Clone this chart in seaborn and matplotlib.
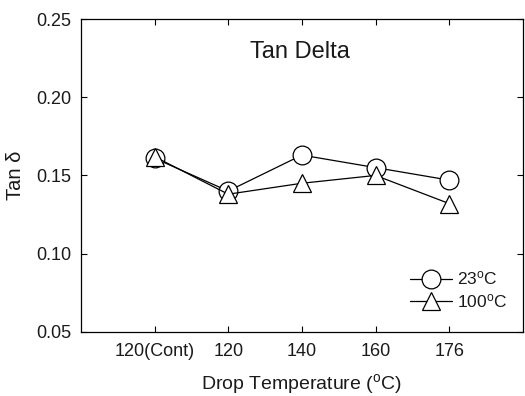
import matplotlib
matplotlib.use("Agg")
import matplotlib.pyplot as plt
import seaborn as sns
import pandas as pd

categories = ["120(Cont)", "120", "140", "160", "176"]
tan_23 = [0.161, 0.140, 0.163, 0.155, 0.147]
tan_100 = [0.162, 0.138, 0.145, 0.150, 0.132]
yticks = [0.05, 0.10, 0.15, 0.20, 0.25]

sns.set_theme(style="ticks")
plt.rcParams['font.family'] = ['Liberation Sans', 'DejaVu Sans']
plt.rcParams['mathtext.fontset'] = 'custom'
plt.rcParams['mathtext.rm'] = 'Liberation Sans'
plt.rcParams['mathtext.it'] = 'Liberation Sans:italic'

lab23 = r"23$^\mathrm{o}$C"
lab100 = r"100$^\mathrm{o}$C"
pos = list(range(len(categories)))
df = pd.DataFrame({
    "x": pos + pos,
    "y": tan_23 + tan_100,
    "series": [lab23] * len(pos) + [lab100] * len(pos),
})

fig = plt.figure(figsize=(5.25, 3.96), dpi=100)
ax = fig.add_axes([0.154, 0.162, 0.842, 0.790])
sns.lineplot(data=df, x="x", y="y", hue="series", style="series",
             palette={lab23: "black", lab100: "black"},
             markers={lab23: "o", lab100: "^"}, dashes=False,
             markersize=13.5, markerfacecolor="white", markeredgecolor="black",
             markeredgewidth=0.9, linewidth=0.9, ax=ax)

ax.set_xlim(-1, 5)
ax.set_ylim(0.05, 0.25)
ax.set_xticks(pos)
ax.set_xticklabels(categories)
ax.set_yticks(yticks)
ax.set_yticklabels([f"{v:.2f}" for v in yticks])
ax.tick_params(direction="in", top=True, right=True, labelsize=13, length=4,
               width=0.8, colors="black", labelcolor="#1a1a1a", pad=7)
ax.tick_params(axis="x", pad=8)
for s in ax.spines.values():
    s.set_linewidth(0.9)
    s.set_color("black")

ax.set_xlabel(r"Drop Temperature ($^\mathrm{o}$C)", fontsize=14, labelpad=9,
              color="#1a1a1a")
ax.set_ylabel("Tan δ", fontsize=14.5, labelpad=8, color="#1a1a1a")
ax.text(0.495, 0.895, "Tan Delta", transform=ax.transAxes, ha="center",
        va="center", fontsize=17, color="#1a1a1a")

leg = ax.legend(loc="lower right", bbox_to_anchor=(1.0, 0.02), frameon=False,
                fontsize=12.5, handlelength=2.4, handletextpad=0.3,
                labelspacing=0.25, title=None)
for t in leg.get_texts():
    t.set_color("#1a1a1a")

fig.savefig("out.png", dpi=100)
